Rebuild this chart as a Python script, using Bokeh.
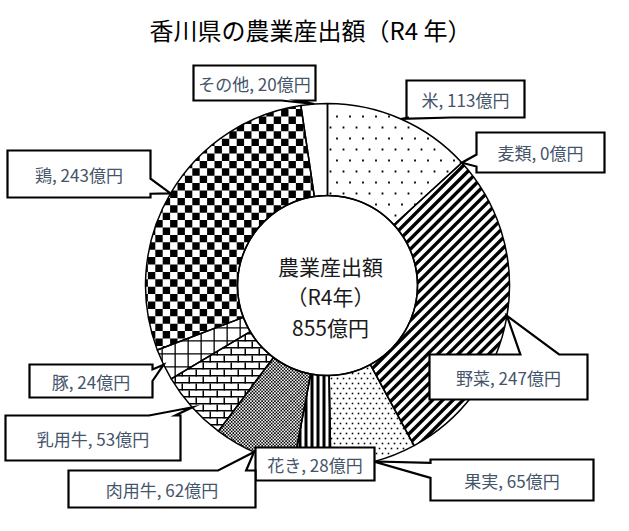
import math
from bokeh.plotting import figure
from bokeh.models import Range1d
from bokeh.core.properties import value
from bokeh.embed import file_html
from bokeh.resources import INLINE

# ---------------- data ----------------
title_text = "香川県の農業産出額（R4 年）"
categories = ["米", "麦類", "野菜", "果実", "花き", "肉用牛", "乳用牛", "豚", "鶏", "その他"]
values = [113, 0, 247, 65, 28, 62, 53, 24, 243, 20]
unit = "億円"
center_lines = ["農業産出額", "（R4年）", "855億円"]

# ---------------- layout (page pixel coordinates) ----------------
W, H = 613, 515
PAGE_H = 531
def Y(yp):
    return PAGE_H - yp

CX, CY = 335, 293
R_OUT, R_IN = 182, 90
FONT = "Noto Sans CJK JP"

# label boxes: left, top, width, height, pointer side, base fraction 0, base fraction 1
label_boxes = {
    "その他": (201, 73, 122, 35, "bottom", 0.72, 0.86),
    "米": (414, 88, 118, 37, "bottom", 0.02, 0.38),
    "麦類": (484, 140, 128, 40, "left", 0.55, 0.85),
    "野菜": (437, 362, 158, 45, "top", 0.575, 0.82),
    "果実": (438, 467, 163, 41, "left", 0.08, 0.45),
    "花き": (263, 455, 119, 33, None, 0, 0),
    "肉用牛": (76, 478, 187, 37, "top", 0.80, 0.95),
    "乳用牛": (13, 423, 175, 45, "top", 0.82, 0.97),
    "豚": (37, 372, 123, 33, "right", 0.15, 0.50),
    "鶏": (15, 158, 143, 47, "right", 0.60, 0.92),
}

# fill styles: (background colour, pattern kind, pattern parameters)
fill_styles = {
    "米": ("white", "dots", dict(dx=13, dy=11, size=1.8)),
    "麦類": ("white", None, {}),
    "野菜": ("white", "diag", dict(period=7.2, width=3.4)),
    "果実": ("white", "dots", dict(dx=6, dy=5, size=1.6)),
    "花き": ("white", "vert", dict(period=6, width=3)),
    "肉用牛": ("white", "checker", dict(cell=1.6)),
    "乳用牛": ("white", "brick", dict(bw=14, bh=7, lw=1.5)),
    "豚": ("white", "grid", dict(period=13, lw=1.3)),
    "鶏": ("white", "checker", dict(cell=7.4)),
    "その他": ("white", None, {}),
}

# ---------------- helpers ----------------
cyd = Y(CY)

def clip_poly(subject, clip):
    out = list(subject)
    n = len(clip)
    for i in range(n):
        if not out:
            break
        A = clip[i]
        B = clip[(i + 1) % n]
        inp = out
        out = []

        def inside(P):
            return (B[0] - A[0]) * (P[1] - A[1]) - (B[1] - A[1]) * (P[0] - A[0]) >= 0

        def inter(P, Q):
            x1, y1 = P; x2, y2 = Q; x3, y3 = A; x4, y4 = B
            den = (x1 - x2) * (y3 - y4) - (y1 - y2) * (x3 - x4)
            t = ((x1 - x3) * (y3 - y4) - (y1 - y3) * (x3 - x4)) / den
            return (x1 + t * (x2 - x1), y1 + t * (y2 - y1))

        S = inp[-1]
        for E in inp:
            if inside(E):
                if not inside(S):
                    out.append(inter(S, E))
                out.append(E)
            elif inside(S):
                out.append(inter(S, E))
            S = E
    return out

def sector_poly(a0, a1, r):
    n = 80
    pts = [(CX, cyd)]
    for k in range(n + 1):
        a = a1 + (a0 - a1) * k / n
        pts.append((CX + r * math.cos(a), cyd + r * math.sin(a)))
    return pts

def in_sector(x, y, a0, a1, rmin, rmax):
    dx, dy = x - CX, y - cyd
    r = math.hypot(dx, dy)
    if r < rmin or r > rmax:
        return False
    th = math.atan2(dy, dx)
    d = (a0 - th) % (2 * math.pi)
    return d <= (a0 - a1)

def pattern_shapes(kind, prm, a0, a1):
    clip = sector_poly(a0, a1, R_OUT)
    xs = [q[0] for q in clip]; ys = [q[1] for q in clip]
    bx0, bx1, by0, by1 = min(xs), max(xs), min(ys), max(ys)
    polys = []

    def add(poly):
        c = clip_poly(poly, clip)
        if len(c) >= 3:
            polys.append(c)

    if kind == "dots":
        dx, dy, s = prm["dx"], prm["dy"], prm["size"]
        y = math.floor(by0 / dy) * dy
        while y <= by1:
            off = (dx / 2) if (round(y / dy) % 2) else 0
            x = math.floor(bx0 / dx) * dx + off
            while x <= bx1:
                if in_sector(x, y, a0, a1, R_IN - 3, R_OUT - 2):
                    polys.append([(x - s / 2, y - s / 2), (x + s / 2, y - s / 2),
                                  (x + s / 2, y + s / 2), (x - s / 2, y + s / 2)])
                x += dx
            y += dy
    elif kind == "checker":
        c = prm["cell"]
        small = c < 3
        i0, i1 = math.floor(bx0 / c), math.ceil(bx1 / c)
        j0, j1 = math.floor(by0 / c), math.ceil(by1 / c)
        for i in range(i0, i1 + 1):
            for j in range(j0, j1 + 1):
                if (i + j) % 2:
                    continue
                x, y = i * c, j * c
                sq = [(x, y), (x + c, y), (x + c, y + c), (x, y + c)]
                if small:
                    if in_sector(x + c / 2, y + c / 2, a0, a1, R_IN - 3, R_OUT - 0.5):
                        polys.append(sq)
                else:
                    if math.hypot(x + c / 2 - CX, y + c / 2 - cyd) < R_IN - 2 * c:
                        continue
                    add(sq)
    elif kind == "diag":
        per, w = prm["period"], prm["width"]
        u = (1 / math.sqrt(2), 1 / math.sqrt(2))
        nrm = (1 / math.sqrt(2), -1 / math.sqrt(2))
        L = R_OUT + 10
        c = -L
        while c <= L:
            pts = []
            for (cc, t) in [(c, -L), (c, L), (c + w, L), (c + w, -L)]:
                pts.append((CX + cc * nrm[0] + t * u[0], cyd + cc * nrm[1] + t * u[1]))
            add(pts)
            c += per
    elif kind == "vert":
        per, w = prm["period"], prm["width"]
        x = math.floor(bx0 / per) * per
        while x <= bx1:
            add([(x, by0 - 1), (x + w, by0 - 1), (x + w, by1 + 1), (x, by1 + 1)])
            x += per
    elif kind == "grid":
        per, lw = prm["period"], prm["lw"]
        x = math.floor(bx0 / per) * per
        while x <= bx1:
            add([(x, by0 - 1), (x + lw, by0 - 1), (x + lw, by1 + 1), (x, by1 + 1)])
            x += per
        y = math.floor(by0 / per) * per
        while y <= by1:
            add([(bx0 - 1, y), (bx1 + 1, y), (bx1 + 1, y + lw), (bx0 - 1, y + lw)])
            y += per
    elif kind == "brick":
        bw, bh, lw = prm["bw"], prm["bh"], prm["lw"]
        k = math.floor(by0 / bh)
        while k * bh <= by1:
            y = k * bh
            add([(bx0 - 1, y), (bx1 + 1, y), (bx1 + 1, y + lw), (bx0 - 1, y + lw)])
            off = (bw / 2) if (k % 2) else 0
            x = math.floor(bx0 / bw) * bw + off - bw
            while x <= bx1 + bw:
                add([(x, y), (x + lw, y), (x + lw, y + bh), (x, y + bh)])
                x += bw
            k += 1
    return polys

# ---------------- figure ----------------
p = figure(width=W, height=H, x_range=Range1d(8, 8 + W), y_range=Range1d(8, 8 + H),
           output_backend="svg", toolbar_location=None, min_border=0,
           x_axis_location=None, y_axis_location=None)
p.grid.visible = False
p.outline_line_color = None
p.background_fill_color = "white"
p.border_fill_color = "white"

total = sum(values)
cum = 0
mids = {}
angles = []
for cat, v in zip(categories, values):
    a0 = math.pi / 2 - 2 * math.pi * cum / total
    cum += v
    a1 = math.pi / 2 - 2 * math.pi * cum / total
    mids[cat] = (a0 + a1) / 2
    angles.append((cat, v, a0, a1))

# slice fills + patterns
for cat, v, a0, a1 in angles:
    if v <= 0:
        continue
    bg, kind, prm = fill_styles[cat]
    p.annular_wedge(x=[CX], y=[cyd], inner_radius=R_IN, outer_radius=R_OUT,
                    start_angle=[a0], end_angle=[a1], direction="clock",
                    fill_color=bg, line_color=None)
    if kind:
        polys = pattern_shapes(kind, prm, a0, a1)
        if polys:
            p.patches(xs=[[q[0] for q in pl] for pl in polys],
                      ys=[[q[1] for q in pl] for pl in polys],
                      fill_color="black", line_color=None)

# inner hole
p.ellipse(x=[CX], y=[cyd], width=2 * R_IN, height=2 * R_IN, fill_color="white",
          line_color="black", line_width=1.5)

# slice outlines
for cat, v, a0, a1 in angles:
    if v <= 0:
        continue
    p.annular_wedge(x=[CX], y=[cyd], inner_radius=R_IN, outer_radius=R_OUT,
                    start_angle=[a0], end_angle=[a1], direction="clock",
                    fill_alpha=0, line_color="black", line_width=1.5)

# center texts
for i, line in enumerate(center_lines):
    p.text(x=[CX + 3], y=[Y(CY - 20 + 30.5 * i)], text=[line], text_align="center",
           text_baseline="middle", text_font=value(FONT), text_font_size="21px",
           text_color="#1a1a1a")

# callouts
for cat, v in zip(categories, values):
    left, top, w, h, side, f0, f1 = label_boxes[cat]
    a = mids[cat]
    tip = (CX + R_OUT * math.cos(a), CY - R_OUT * math.sin(a))
    x0, y0, x1, y1 = left, top, left + w, top + h
    if side == "top":
        pts = [(x0, y0), (x0 + f0 * w, y0), tip, (x0 + f1 * w, y0), (x1, y0), (x1, y1), (x0, y1)]
    elif side == "right":
        pts = [(x0, y0), (x1, y0), (x1, y0 + f0 * h), tip, (x1, y0 + f1 * h), (x1, y1), (x0, y1)]
    elif side == "bottom":
        pts = [(x0, y0), (x1, y0), (x1, y1), (x0 + f1 * w, y1), tip, (x0 + f0 * w, y1), (x0, y1)]
    elif side == "left":
        pts = [(x0, y0), (x1, y0), (x1, y1), (x0, y1), (x0, y0 + f1 * h), tip, (x0, y0 + f0 * h)]
    else:
        pts = [(x0, y0), (x1, y0), (x1, y1), (x0, y1)]
    p.patch(x=[q[0] for q in pts], y=[Y(q[1]) for q in pts], fill_color="white",
            line_color="black", line_width=2.2, line_join="miter")
    p.text(x=[(x0 + x1) / 2], y=[Y((y0 + y1) / 2)], text=[f"{cat}, {v}{unit}"],
           text_align="center", text_baseline="middle", text_font=value(FONT),
           text_font_size="17px", text_color="#44546A")

# title
p.text(x=[318], y=[Y(37)], text=[title_text], text_align="center", text_baseline="middle",
       text_font=value(FONT), text_font_size="24px", text_color="black")

open("out.html", "w").write(file_html(p, INLINE))
